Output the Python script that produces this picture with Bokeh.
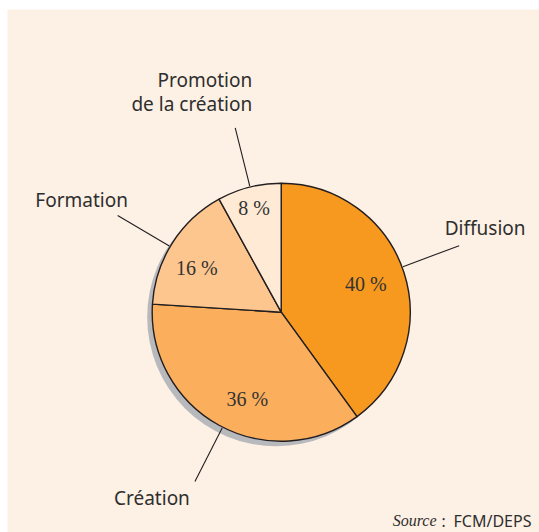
import numpy as np
from bokeh.plotting import figure
from bokeh.models import Range1d, ColumnDataSource
from bokeh.core.properties import value
from bokeh.embed import file_html
from bokeh.resources import INLINE

# ---- data ----
categories = ["Diffusion", "Création", "Formation", "Promotion\nde la création"]
shares = [40, 36, 16, 8]
pct_labels = ["40 %", "36 %", "16 %", "8 %"]
colors = ["#F7981F", "#FBAE5C", "#FDC68E", "#FEEAD5"]
source_note = "FCM/DEPS"

W, H = 539, 532
BG = "#FDF0E4"
INK = "#231F20"

p = figure(width=W, height=H, x_range=Range1d(7, 539), y_range=Range1d(0, 523),
           output_backend="svg", toolbar_location=None,
           min_border_left=7, min_border_top=9, min_border_right=0, min_border_bottom=0,
           background_fill_color=BG, border_fill_color="white", outline_line_color=None)
p.axis.visible = False
p.grid.visible = False

cx, cy, R = 280.7, 220.3, 129

# shadow
p.circle(x=[cx - 5], y=[cy - 5], radius=R, fill_color="#B7B9BD", line_color=None)

vals = np.array(shares, dtype=float)
frac = vals / vals.sum()
cum = np.concatenate([[0], np.cumsum(frac)])
start = np.pi / 2 - 2 * np.pi * cum[:-1]
end = np.pi / 2 - 2 * np.pi * cum[1:]
mid = (start + end) / 2

src = ColumnDataSource(dict(start=start, end=end, color=colors))
p.wedge(x=cx, y=cy, radius=R, start_angle="start", end_angle="end", direction="clock",
        fill_color="color", line_color=INK, line_width=1.4, source=src)

# percentage labels (layout: radius and angle nudge per slice)
lab_r = [89, 93, 95, 108]
lab_da = [0.2, 7.5, 5.0, 0.1]
for i, t in enumerate(pct_labels):
    a = mid[i] + np.deg2rad(lab_da[i])
    p.text(x=[cx + lab_r[i] * np.cos(a)], y=[cy + lab_r[i] * np.sin(a)], text=[t],
           text_font=value("Liberation Serif"), text_font_size="20px",
           text_color="#333333", text_align="center", text_baseline="middle")

# leader lines
lead_da = [2.5, 1.8, 1.8, -0.4]
outer = []
for i in range(len(shares)):
    a = mid[i] + np.deg2rad(lead_da[i])
    x0, y0 = cx + 130 * np.cos(a), cy + 130 * np.sin(a)
    x1, y1 = cx + 190 * np.cos(a), cy + 190 * np.sin(a)
    outer.append((x1, y1))
    p.line(x=[x0, x1], y=[y0, y1], line_color=INK, line_width=1.1)

# category labels (layout offsets from leader end)
offs = [(26, 18, "center"), (-43, -17, "center"), (-36, 15, "center"), (17, 48, "right")]
for i, name in enumerate(categories):
    dx, dy, al = offs[i]
    x1, y1 = outer[i]
    lines = name.split("\n")
    for j, ln in enumerate(lines):
        p.text(x=[x1 + dx], y=[y1 + dy - 24 * j], text=[ln],
               text_font=value("Noto Sans"), text_font_size="19px",
               text_color="#2E2E2E", text_align=al, text_baseline="alphabetic")

# source
sy = 12
p.text(x=[436], y=[sy], text=["Source"], text_font=value("Liberation Serif"),
       text_font_style="italic", text_font_size="16px", text_color="#2E2E2E",
       text_align="right", text_baseline="alphabetic")
p.text(x=[441], y=[sy], text=[":"], text_font=value("Noto Sans"),
       text_font_size="15.5px", text_color="#2E2E2E",
       text_align="left", text_baseline="alphabetic")
p.text(x=[453], y=[sy], text=[source_note], text_font=value("Noto Sans"),
       text_font_size="16px", text_color="#2E2E2E",
       text_align="left", text_baseline="alphabetic")

open("out.html", "w").write(file_html(p, INLINE))
